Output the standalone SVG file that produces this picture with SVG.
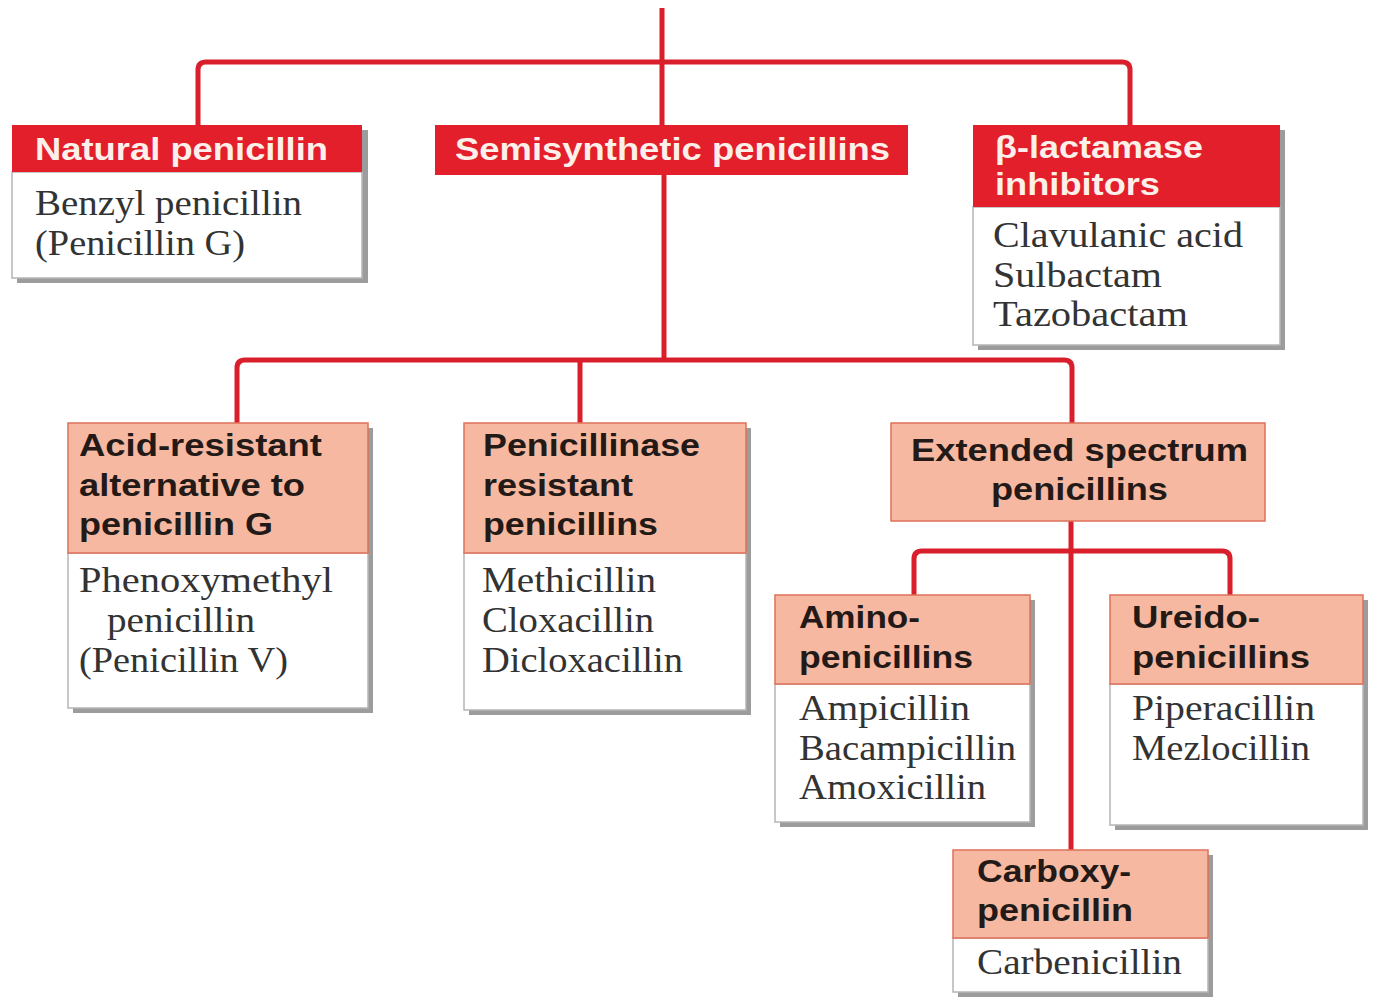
<svg xmlns="http://www.w3.org/2000/svg" width="1373" height="997" viewBox="0 0 1373 997">
<style>
.bg{fill:#ffffff}
.sh{fill:#9c9c9c}
.hr{fill:#e21f2b}
.hs{fill:#f6b8a0;stroke:#e0705a;stroke-width:1.5}
.bd{fill:#ffffff;stroke:#b5b5b5;stroke-width:1.5}
.ln{fill:none;stroke:#d91f2b;stroke-width:5;stroke-linejoin:round}
.tw{font-family:"Liberation Sans",Arial,sans-serif;font-weight:bold;font-size:32px;fill:#fdf0ea}
.tk{font-family:"Liberation Sans",Arial,sans-serif;font-weight:bold;font-size:32px;fill:#231a18}
.tb{font-family:"Liberation Serif","Times New Roman",serif;font-size:35px;fill:#333333}
</style>
<rect class="bg" x="0" y="0" width="1373" height="997"/>
<g id="connectors">
<path class="ln" d="M662,8 V125"/>
<path class="ln" d="M198,125 V70 Q198,62 206,62 H1122 Q1130,62 1130,70 V125"/>
<path class="ln" d="M664,175 V360"/>
<path class="ln" d="M237,423 V368 Q237,360 245,360 H1064 Q1072,360 1072,368 V423"/>
<path class="ln" d="M580,360 V423"/>
<path class="ln" d="M1071,521 V850"/>
<path class="ln" d="M914,595 V559 Q914,551 922,551 H1222 Q1230,551 1230,559 V595"/>
</g>
<g id="natural">
<rect class="sh" x="17" y="130" width="351" height="153"/>
<rect class="bd" x="12" y="172" width="350" height="106"/>
<rect class="hr" x="12" y="125" width="350" height="47"/>
<text class="tw" x="35" y="160" textLength="293" lengthAdjust="spacingAndGlyphs">Natural penicillin</text>
<text class="tb" x="35" y="215" textLength="267" lengthAdjust="spacingAndGlyphs">Benzyl penicillin</text>
<text class="tb" x="35" y="255" textLength="210" lengthAdjust="spacingAndGlyphs">(Penicillin G)</text>
</g>
<g id="semisynthetic">
<rect class="hr" x="435" y="125" width="473" height="50"/>
<text class="tw" x="455" y="160" textLength="435" lengthAdjust="spacingAndGlyphs">Semisynthetic penicillins</text>
</g>
<g id="blactamase">
<rect class="sh" x="978" y="130" width="307" height="220"/>
<rect class="bd" x="973" y="207" width="307" height="138"/>
<rect class="hr" x="973" y="125" width="307" height="82"/>
<text class="tw" x="995" y="158" textLength="208" lengthAdjust="spacingAndGlyphs">β-lactamase</text>
<text class="tw" x="995" y="195" textLength="165" lengthAdjust="spacingAndGlyphs">inhibitors</text>
<text class="tb" x="993" y="247" textLength="250" lengthAdjust="spacingAndGlyphs">Clavulanic acid</text>
<text class="tb" x="993" y="287" textLength="169" lengthAdjust="spacingAndGlyphs">Sulbactam</text>
<text class="tb" x="993" y="326" textLength="195" lengthAdjust="spacingAndGlyphs">Tazobactam</text>
</g>
<g id="acidresistant">
<rect class="sh" x="73" y="428" width="300" height="285"/>
<rect class="bd" x="68" y="553" width="300" height="155"/>
<rect class="hs" x="68" y="423" width="300" height="130"/>
<text class="tk" x="79" y="456" textLength="243" lengthAdjust="spacingAndGlyphs">Acid-resistant</text>
<text class="tk" x="79" y="496" textLength="226" lengthAdjust="spacingAndGlyphs">alternative to</text>
<text class="tk" x="79" y="535" textLength="194" lengthAdjust="spacingAndGlyphs">penicillin G</text>
<text class="tb" x="79" y="592" textLength="254" lengthAdjust="spacingAndGlyphs">Phenoxymethyl</text>
<text class="tb" x="107" y="632" textLength="148" lengthAdjust="spacingAndGlyphs">penicillin</text>
<text class="tb" x="79" y="672" textLength="209" lengthAdjust="spacingAndGlyphs">(Penicillin V)</text>
</g>
<g id="penicillinase">
<rect class="sh" x="469" y="428" width="282" height="287"/>
<rect class="bd" x="464" y="553" width="282" height="157"/>
<rect class="hs" x="464" y="423" width="282" height="130"/>
<text class="tk" x="483" y="456" textLength="217" lengthAdjust="spacingAndGlyphs">Penicillinase</text>
<text class="tk" x="483" y="496" textLength="150" lengthAdjust="spacingAndGlyphs">resistant</text>
<text class="tk" x="483" y="535" textLength="175" lengthAdjust="spacingAndGlyphs">penicillins</text>
<text class="tb" x="482" y="592" textLength="174" lengthAdjust="spacingAndGlyphs">Methicillin</text>
<text class="tb" x="482" y="632" textLength="172" lengthAdjust="spacingAndGlyphs">Cloxacillin</text>
<text class="tb" x="482" y="672" textLength="201" lengthAdjust="spacingAndGlyphs">Dicloxacillin</text>
</g>
<g id="extended">
<rect class="hs" x="891" y="423" width="374" height="98"/>
<text class="tk" x="911" y="461" textLength="337" lengthAdjust="spacingAndGlyphs">Extended spectrum</text>
<text class="tk" x="991" y="500" textLength="177" lengthAdjust="spacingAndGlyphs">penicillins</text>
</g>
<g id="amino">
<rect class="sh" x="780" y="600" width="255" height="227"/>
<rect class="bd" x="775" y="684" width="255" height="138"/>
<rect class="hs" x="775" y="595" width="255" height="89"/>
<text class="tk" x="799" y="628" textLength="121" lengthAdjust="spacingAndGlyphs">Amino-</text>
<text class="tk" x="799" y="668" textLength="174" lengthAdjust="spacingAndGlyphs">penicillins</text>
<text class="tb" x="799" y="720" textLength="171" lengthAdjust="spacingAndGlyphs">Ampicillin</text>
<text class="tb" x="799" y="760" textLength="217" lengthAdjust="spacingAndGlyphs">Bacampicillin</text>
<text class="tb" x="799" y="799" textLength="187" lengthAdjust="spacingAndGlyphs">Amoxicillin</text>
</g>
<g id="ureido">
<rect class="sh" x="1115" y="600" width="253" height="230"/>
<rect class="bd" x="1110" y="684" width="253" height="141"/>
<rect class="hs" x="1110" y="595" width="253" height="89"/>
<text class="tk" x="1132" y="628" textLength="128" lengthAdjust="spacingAndGlyphs">Ureido-</text>
<text class="tk" x="1132" y="668" textLength="178" lengthAdjust="spacingAndGlyphs">penicillins</text>
<text class="tb" x="1132" y="720" textLength="183" lengthAdjust="spacingAndGlyphs">Piperacillin</text>
<text class="tb" x="1132" y="760" textLength="178" lengthAdjust="spacingAndGlyphs">Mezlocillin</text>
</g>
<g id="carboxy">
<rect class="sh" x="958" y="855" width="255" height="142"/>
<rect class="bd" x="953" y="938" width="255" height="54"/>
<rect class="hs" x="953" y="850" width="255" height="88"/>
<text class="tk" x="977" y="882" textLength="154" lengthAdjust="spacingAndGlyphs">Carboxy-</text>
<text class="tk" x="977" y="921" textLength="156" lengthAdjust="spacingAndGlyphs">penicillin</text>
<text class="tb" x="977" y="974" textLength="205" lengthAdjust="spacingAndGlyphs">Carbenicillin</text>
</g>
</svg>
